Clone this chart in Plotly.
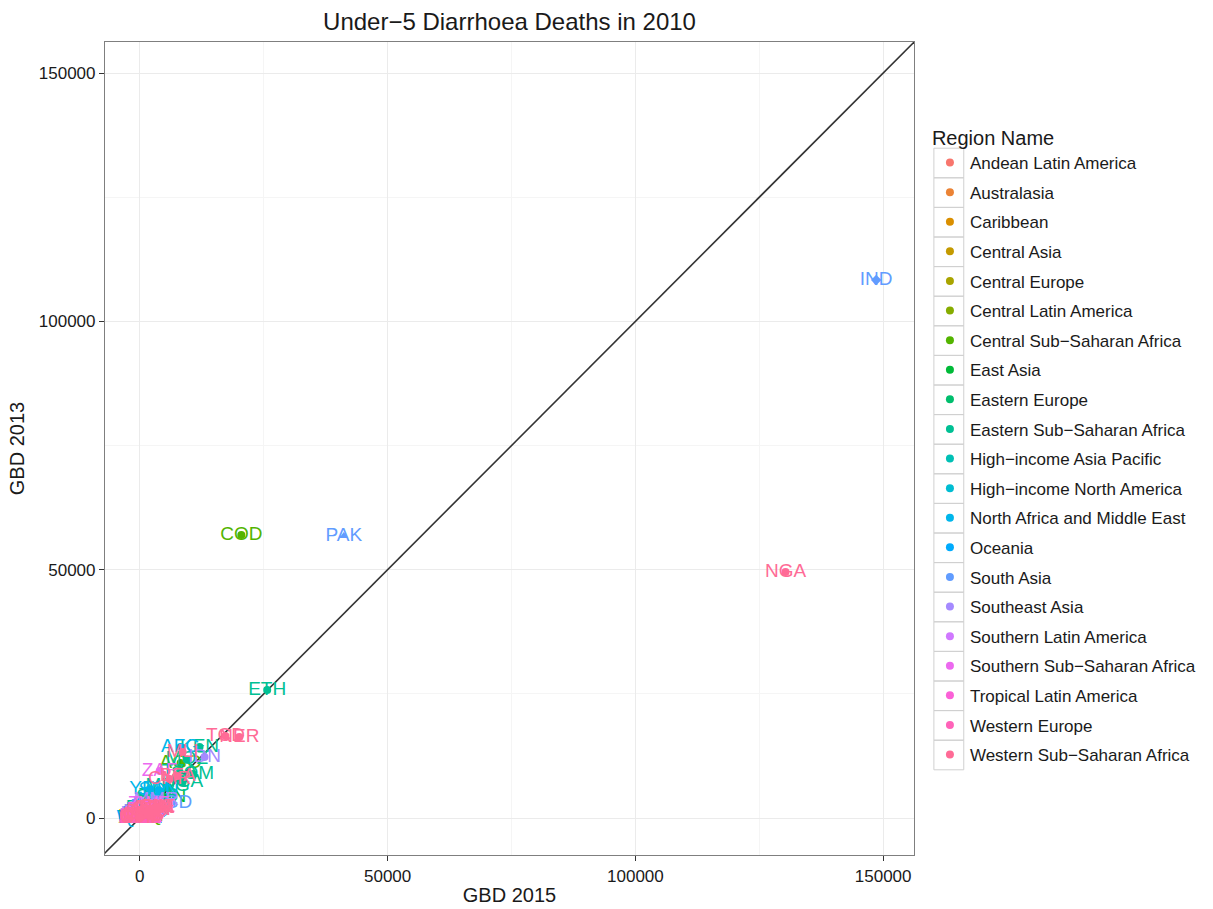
import math
import plotly.graph_objects as go

# ---------------------------------------------------------------------------
# Under-5 diarrhoea deaths in 2010: GBD 2015 estimate (x) vs GBD 2013 estimate (y)
# ---------------------------------------------------------------------------

regions = [
    "Andean Latin America", "Australasia", "Caribbean", "Central Asia",
    "Central Europe", "Central Latin America", "Central Sub−Saharan Africa",
    "East Asia", "Eastern Europe", "Eastern Sub−Saharan Africa",
    "High−income Asia Pacific", "High−income North America",
    "North Africa and Middle East", "Oceania", "South Asia", "Southeast Asia",
    "Southern Latin America", "Southern Sub−Saharan Africa",
    "Tropical Latin America", "Western Europe", "Western Sub−Saharan Africa",
]

iso = [
    # Andean Latin America
    "BOL", "ECU", "PER",
    # Australasia
    "AUS", "NZL",
    # Caribbean
    "HTI", "DOM", "CUB", "JAM", "TTO", "GUY", "SUR", "BLZ", "BHS", "BRB", "LCA", "VCT", "GRD",
    # Central Asia
    "ARM", "AZE", "GEO", "KAZ", "KGZ", "MNG", "TJK", "TKM", "UZB",
    # Central Europe
    "ALB", "BIH", "BGR", "HRV", "CZE", "HUN", "MKD", "MNE", "POL", "ROU", "SRB", "SVK", "SVN",
    # Central Latin America
    "COL", "CRI", "SLV", "GTM", "HND", "MEX", "NIC", "PAN", "VEN",
    # Central Sub-Saharan Africa
    "AGO", "CAF", "COG", "COD", "GNQ", "GAB",
    # East Asia
    "CHN", "PRK", "TWN",
    # Eastern Europe
    "BLR", "EST", "LVA", "LTU", "MDA", "RUS", "UKR",
    # Eastern Sub-Saharan Africa
    "BDI", "COM", "DJI", "ERI", "ETH", "KEN", "MDG", "MWI", "MOZ", "RWA", "SOM", "SSD", "TZA", "UGA", "ZMB",
    # High-income Asia Pacific
    "BRN", "JPN", "KOR", "SGP",
    # High-income North America
    "CAN", "USA",
    # North Africa and Middle East
    "AFG", "DZA", "BHR", "EGY", "IRN", "IRQ", "JOR", "KWT", "LBN", "LBY", "MAR", "PSE", "OMN",
    "QAT", "SAU", "SDN", "SYR", "TUN", "TUR", "ARE", "YEM",
    # Oceania
    "FJI", "KIR", "MHL", "FSM", "PNG", "WSM", "SLB", "TON", "VUT",
    # South Asia
    "BGD", "BTN", "IND", "NPL", "PAK",
    # Southeast Asia
    "KHM", "IDN", "LAO", "MYS", "MDV", "MMR", "PHL", "LKA", "THA", "TLS", "VNM",
    # Southern Latin America
    "ARG", "CHL", "URY",
    # Southern Sub-Saharan Africa
    "BWA", "LSO", "NAM", "ZAF", "SWZ", "ZWE",
    # Tropical Latin America
    "BRA", "PRY",
    # Western Europe
    "AND", "AUT", "BEL", "CYP", "DNK", "FIN", "FRA", "DEU", "GRC", "ISL", "IRL",
    "ISR", "ITA", "LUX", "MLT", "NLD", "NOR", "PRT", "ESP", "SWE", "CHE", "GBR",
    # Western Sub-Saharan Africa
    "BEN", "BFA", "CMR", "CPV", "TCD", "CIV", "GMB", "GHA", "GIN", "GNB", "LBR",
    "MLI", "MRT", "NER", "NGA", "STP", "SEN", "SLE", "TGO",
]

# number of countries listed for each region (same order as `regions`)
region_sizes = [3, 2, 13, 9, 13, 9, 6, 3, 7, 15, 4, 2, 21, 9, 5, 11, 3, 6, 2, 22, 19]

gbd2015 = [
    900, 250, 350,
    5, 2,
    1800, 350, 20, 30, 10, 60, 15, 10, 3, 1, 2, 2, 1,
    20, 200, 20, 150, 150, 80, 900, 250, 800,
    20, 5, 30, 2, 3, 5, 8, 1, 15, 80, 10, 10, 1,
    400, 20, 80, 1200, 250, 900, 150, 60, 400,
    8230, 2600, 900, 20480, 250, 150,
    5200, 600, 5,
    5, 1, 2, 2, 15, 200, 60,
    2900, 150, 200, 700, 25700, 12050, 5620, 3200, 9500, 1500, 10640, 3200, 8030, 8630, 3700,
    1, 30, 20, 1,
    10, 150,
    8230, 900, 1, 1200, 500, 1500, 50, 5, 10, 30, 900, 40, 10,
    2, 60, 3800, 100, 50, 500, 5, 2010,
    10, 15, 5, 5, 1500, 3, 60, 2, 20,
    6430, 40, 148600, 1800, 41160,
    900, 13050, 700, 30, 1, 3300, 2200, 40, 150, 80, 600,
    80, 10, 5,
    150, 600, 200, 4020, 200, 1800,
    1200, 60,
    0, 1, 2, 0, 1, 0, 15, 15, 2, 0, 1,
    3, 10, 0, 0, 5, 1, 2, 5, 2, 2, 20,
    3000, 7630, 6020, 10, 17270, 3400, 300, 2800, 3200, 800, 900,
    8630, 700, 20080, 130300, 15, 2300, 3500, 1500,
]

gbd2013 = [
    1100, 300, 450,
    8, 3,
    2300, 400, 40, 40, 15, 80, 20, 15, 4, 2, 3, 2, 1,
    30, 350, 30, 250, 250, 120, 1200, 400, 1100,
    40, 8, 40, 3, 4, 6, 12, 2, 20, 120, 15, 12, 1,
    500, 25, 120, 1500, 350, 1200, 250, 90, 600,
    11080, 2900, 1000, 57000, 300, 200,
    4200, 800, 5,
    8, 1, 2, 3, 25, 300, 90,
    3300, 200, 250, 900, 25780, 14300, 6440, 3600, 11800, 1900, 8860, 4200, 9260, 7250, 4300,
    1, 40, 25, 1,
    15, 200,
    14300, 1100, 1, 1600, 700, 2200, 80, 8, 15, 50, 1200, 60, 15,
    3, 90, 5600, 200, 80, 700, 8, 5840,
    15, 20, 6, 7, 1200, 4, 80, 2, 25,
    3020, 60, 108350, 2200, 56800,
    1200, 12285, 900, 40, 1, 3500, 2800, 60, 200, 100, 800,
    100, 15, 8,
    250, 700, 300, 9470, 250, 2800,
    1500, 90,
    0, 1, 2, 0, 1, 0, 20, 20, 3, 0, 1,
    4, 12, 0, 0, 5, 1, 3, 6, 2, 2, 25,
    2000, 8460, 7850, 10, 16515, 2200, 300, 2000, 2200, 600, 700,
    13290, 500, 16300, 49540, 15, 1600, 2100, 1100,
]

# marker symbols that differ from the default circle
special_symbols = {"PAK": "triangle-up", "IND": "diamond"}

axis_ticks = [0, 50000, 100000, 150000]
axis_minor = [25000, 75000, 125000]
x_range = [-7030, 156225]
y_range = [-7450, 156260]


def hue_palette(n, c=100.0, l=65.0, h0=15.0):
    """Evenly spaced HCL hues (polar Luv), converted to sRGB hex."""
    xn, yn, zn = 95.047, 100.0, 108.883
    un = 4 * xn / (xn + 15 * yn + 3 * zn)
    vn = 9 * yn / (xn + 15 * yn + 3 * zn)
    out = []
    for i in range(n):
        h = math.radians(h0 + i * 360.0 / n)
        u, v = c * math.cos(h), c * math.sin(h)
        y = yn * ((l + 16) / 116) ** 3 if l > 8 else yn * l / 903.3
        up = u / (13 * l) + un
        vp = v / (13 * l) + vn
        x = 9 * y * up / (4 * vp)
        z = y * (12 - 3 * up - 20 * vp) / (4 * vp)
        x, y, z = x / 100, y / 100, z / 100
        r = 3.2404542 * x - 1.5371385 * y - 0.4985314 * z
        g = -0.9692660 * x + 1.8760108 * y + 0.0415560 * z
        b = 0.0556434 * x - 0.2040259 * y + 1.0572252 * z

        def gam(t):
            t = 12.92 * t if t <= 0.0031308 else 1.055 * t ** (1 / 2.4) - 0.055
            return max(0, min(255, round(t * 255)))

        out.append("#%02X%02X%02X" % (gam(r), gam(g), gam(b)))
    return out


colors = hue_palette(len(regions))
FONT = "Liberation Sans, Arial, sans-serif"

# figure geometry (pixels)
W, H = 1213, 909
M_L, M_R, M_T, M_B = 105, 295, 42, 54
PLOT_W, PLOT_H = W - M_L - M_R, H - M_T - M_B


def px_x(p):
    return (p - M_L) / PLOT_W


def px_y(p):
    return 1 - (p - M_T) / PLOT_H


# legend layout
LEG_LEFT, LEG_TOP = 934, 119
ROW_H, FIRST_ROW_TOP = 29.6, 148.2
KEY_L, KEY_R = 938, 968

fig = go.Figure()

# reference line y = x
fig.add_trace(go.Scatter(
    x=[x_range[0] - 5000, x_range[1] + 5000],
    y=[x_range[0] - 5000, x_range[1] + 5000],
    mode="lines", line=dict(color="#333333", width=1.6),
    hoverinfo="skip", showlegend=False,
))

start = 0
for reg, n, col in zip(regions, region_sizes, colors):
    codes = iso[start:start + n]
    xs = gbd2015[start:start + n]
    ys = gbd2013[start:start + n]
    start += n
    fig.add_trace(go.Scatter(
        x=xs, y=ys, text=codes, name=reg,
        mode="markers+text", textposition="middle center",
        textfont=dict(family=FONT, size=19, color=col),
        marker=dict(color=col, size=8,
                    symbol=[special_symbols.get(c, "circle") for c in codes]),
        legendgroup=reg,
    ))

# grey frames around legend keys
for i in range(len(regions)):
    top = FIRST_ROW_TOP + i * ROW_H
    fig.add_shape(type="rect", xref="paper", yref="paper",
                  x0=px_x(KEY_L), x1=px_x(KEY_R),
                  y0=px_y(top + ROW_H), y1=px_y(top),
                  line=dict(color="#D0D0D0", width=1), fillcolor="rgba(0,0,0,0)",
                  layer="below")

axis_common = dict(
    tickvals=axis_ticks, tickformat="d",
    ticks="outside", ticklen=5, tickcolor="#333333", tickwidth=1,
    tickfont=dict(family=FONT, size=17, color="#1a1a1a"),
    showgrid=True, gridcolor="#EBEBEB", gridwidth=1.2,
    minor=dict(tickvals=axis_minor, showgrid=True, gridcolor="#F5F5F5",
               gridwidth=1, ticks=""),
    showline=True, linecolor="#7F7F7F", linewidth=1.2, mirror=True,
    zeroline=False, automargin=False,
)

fig.update_layout(
    width=W, height=H,
    margin=dict(l=M_L, r=M_R, t=M_T, b=M_B),
    plot_bgcolor="white", paper_bgcolor="white",
    font=dict(family=FONT, color="#1a1a1a"),
    title=dict(text="Under−5 Diarrhoea Deaths in 2010", x=0.5, xref="paper",
               xanchor="center", y=1 - 22 / H, yanchor="middle",
               font=dict(family=FONT, size=24, color="#1a1a1a")),
    xaxis=dict(range=x_range,
               title=dict(text="GBD 2015", font=dict(family=FONT, size=20), standoff=3),
               **axis_common),
    yaxis=dict(range=y_range,
               title=dict(text="GBD 2013", font=dict(family=FONT, size=20), standoff=8),
               **axis_common),
    legend=dict(
        title=dict(text="Region Name", font=dict(family=FONT, size=20, color="#1a1a1a")),
        font=dict(family=FONT, size=17, color="#1a1a1a"),
        x=px_x(LEG_LEFT), xanchor="left",
        y=px_y(LEG_TOP), yanchor="top",
        traceorder="grouped", tracegroupgap=4.5,
        bgcolor="rgba(0,0,0,0)",
    ),
)

fig.write_html("out.html")
